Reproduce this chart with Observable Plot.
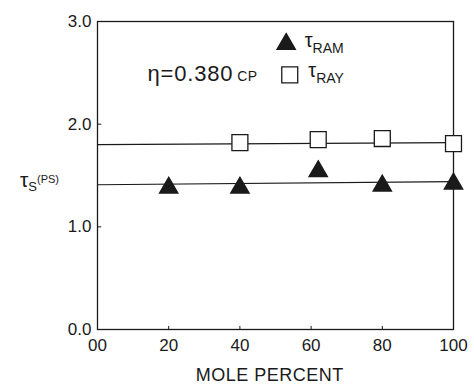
<!DOCTYPE html>
<html><head><meta charset="utf-8">
<script src="https://cdn.jsdelivr.net/npm/d3@7"></script>
<script src="https://cdn.jsdelivr.net/npm/@observablehq/plot@0.6"></script>
<style>body{margin:0;background:#fff} svg{font-family:"Liberation Sans",Arial,sans-serif}</style>
</head><body><div id="chart"></div>
<script>
// Data
const ramPercent = [20, 40, 62, 80, 100];
const tauRam = [1.38, 1.38, 1.54, 1.40, 1.42];
const rayPercent = [40, 62, 80, 100];
const tauRay = [1.82, 1.85, 1.86, 1.81];
const ramFitX = [0, 100];
const ramFitY = [1.41, 1.44];
const rayFitX = [0, 100];
const rayFitY = [1.80, 1.82];
const xTicks = [0, 20, 40, 60, 80, 100];
const xTickLabels = ["00", "20", "40", "60", "80", "100"];
const yTicks = [0, 1, 2, 3];
const yTickLabels = ["0.0", "1.0", "2.0", "3.0"];
const legendKeys = ["RAM", "RAY"];
const legendX = [53, 54];
const legendY = [2.78, 2.48];

const ram = ramPercent.map((x, i) => ({x, y: tauRam[i]}));
const ray = rayPercent.map((x, i) => ({x, y: tauRay[i]}));
const ramFit = ramFitX.map((x, i) => ({x, y: ramFitY[i]}));
const rayFit = rayFitX.map((x, i) => ({x, y: rayFitY[i]}));
const legend = legendKeys.map((k, i) => ({k, x: legendX[i], y: legendY[i]}));
const ink = "#1a1a1a";

const plot = Plot.plot({
  width: 474, height: 387,
  marginLeft: 97, marginRight: 21, marginTop: 21, marginBottom: 58,
  x: {domain: [0, 100], ticks: xTicks, tickFormat: d => xTickLabels[xTicks.indexOf(d)], tickSize: 0, tickPadding: 9, label: null},
  y: {domain: [0, 3], ticks: yTicks, tickFormat: d => yTickLabels[yTicks.indexOf(d)], tickSize: 0, tickPadding: 6, label: null},
  style: {fontSize: "17px", color: ink, fontFamily: "Liberation Sans, Arial, sans-serif"},
  marks: [
    Plot.frame({stroke: ink, strokeWidth: 1.3}),
    Plot.ruleY(yTicks.slice(1, 3), {y: d => d, x1: 0, x2: 1.2, stroke: ink}),
    Plot.ruleX(xTicks.slice(1, 5), {x: d => d, y1: 0, y2: 0.03, stroke: ink}),
    Plot.line(ramFit, {x: "x", y: "y", stroke: ink, strokeWidth: 1.2}),
    Plot.line(rayFit, {x: "x", y: "y", stroke: ink, strokeWidth: 1.2}),
    Plot.dot(ray, {x: "x", y: "y", symbol: "square", r: 9, fill: "white", stroke: ink, strokeWidth: 1.3}),
    Plot.dot(ram, {x: "x", y: "y", symbol: "triangle", r: 6.7, fill: ink, stroke: ink}),
    Plot.dot(legend.filter(d => d.k === "RAM"), {x: "x", y: "y", symbol: "triangle", r: 6.7, fill: ink, stroke: ink}),
    Plot.dot(legend.filter(d => d.k === "RAY"), {x: "x", y: "y", symbol: "square", r: 9, fill: "white", stroke: ink, strokeWidth: 1.3})
  ]
});
document.getElementById("chart").appendChild(plot);

const sx = plot.scale("x").apply, sy = plot.scale("y").apply;
const svg = d3.select(plot);
// x axis title
svg.append("text").attr("x", sx(48.5)).attr("y", 381).attr("text-anchor", "middle")
  .attr("font-size", 18).attr("letter-spacing", 0.5).attr("fill", ink).text("MOLE PERCENT");
// y axis label: τS(PS)
const yl = svg.append("text").attr("x", 20).attr("y", sy(1.42) + 4).attr("text-anchor", "start").attr("fill", ink).attr("font-size", 21);
yl.append("tspan").text("τ");
yl.append("tspan").attr("font-size", 13).attr("dy", 4).text("S");
yl.append("tspan").attr("font-size", 11).attr("dy", -8).text("(PS)");
// viscosity annotation
const an = svg.append("text").attr("x", sx(14.2)).attr("y", sy(2.49) + 8).attr("text-anchor", "start").attr("fill", ink).attr("font-size", 22).attr("letter-spacing", 0.8);
an.append("tspan").text("η=0.380");
an.append("tspan").attr("font-size", 14).attr("dx", 4).attr("letter-spacing", 0.3).text("CP");
// legend labels
legend.forEach(d => {
  const t = svg.append("text").attr("x", sx(d.x) + 19).attr("y", sy(d.y) + 3).attr("text-anchor", "start").attr("fill", ink).attr("font-size", 20);
  t.append("tspan").text("τ");
  t.append("tspan").attr("font-size", 14).attr("dy", 6).text(d.k);
});
</script></body></html>
